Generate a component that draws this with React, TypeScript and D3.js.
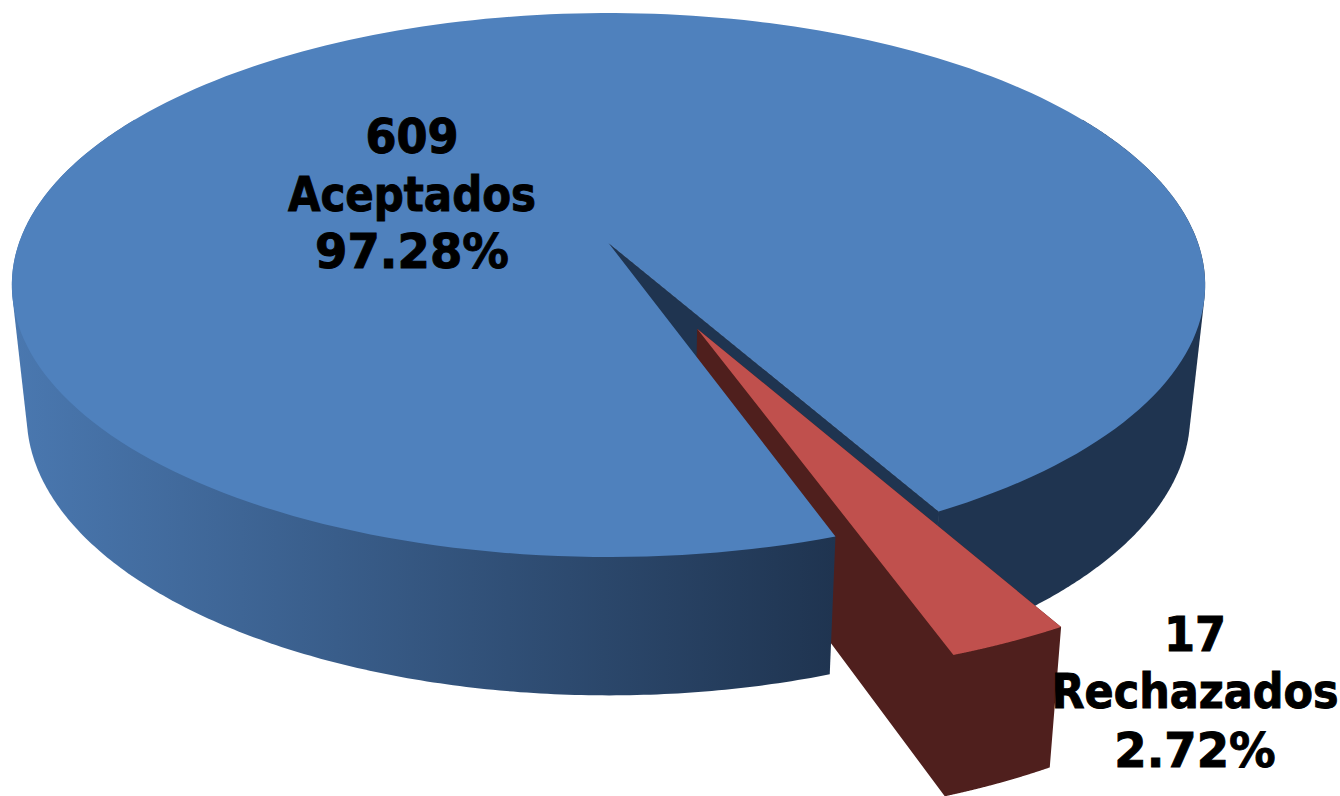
// App.tsx - 3D exploded pie, drawn with a small perspective projection
import React from "react";
import * as d3 from "d3";

const categories = ["Aceptados", "Rechazados"];
const counts = [609, 17];
const percents = ["97.28%", "2.72%"];

const topColors = ["#4f81bd", "#c0504d"];
const sideColors = ["#1f3450", "#4f1f1d"];

const width = 1340;
const height = 796;

// perspective of the pie plane
const apex = { x: 608.5, y: 243 };
const radiusX = 589.5;
const radiusY = 265.5;
const tilt = 0.1544;
const rotation = (160.8 * Math.PI) / 180;
const explode = 0.341;
const explodeNudge = 0.004;

// side walls: the bottom face shrinks towards x = 607 and is a bit flatter
const shrink = 0.975;
const shrinkX = 607;
const depth = 138.4;
const flatten = 0.03;
const frontY = 557;

type Pt = [number, number];

// angle is clockwise from 12 o'clock, radius 1 = rim
const project = (angle: number, r: number, ox = 0, oy = 0): Pt => {
  const px = ox + r * Math.sin(angle);
  const py = oy - r * Math.cos(angle);
  const w = 1 - tilt * py;
  return [apex.x + (radiusX * px) / w, apex.y + (radiusY * py) / w];
};

const lower = (p: Pt): Pt => [
  shrinkX + shrink * (p[0] - shrinkX),
  p[1] + depth - flatten * (frontY - p[1]),
];

const rim = (a0: number, a1: number, ox = 0, oy = 0): Pt[] =>
  d3.range(0, 241).map((i) => project(a0 + ((a1 - a0) * i) / 240, 1, ox, oy));

const line = d3.line<Pt>().curve(d3.curveLinearClosed);

const hullOf = (pts: Pt[]) =>
  line(d3.polygonHull([...pts, ...pts.map(lower)]) as Pt[]) as string;

const rad = (deg: number) => (deg * Math.PI) / 180;

const labelAt = [
  { x: 412, ys: [153, 211, 268], sx: [0.93, 0.875, 0.97] },
  { x: 1195, ys: [651, 708, 767], sx: [0.93, 0.895, 0.97] },
];

export default function App() {
  const slices = d3
    .pie<number>()
    .sort(null)
    .startAngle(rotation)
    .endAngle(rotation + Math.PI * 2)(counts);

  const blue = slices[0];
  const red = slices[1];

  const mid = (red.startAngle + red.endAngle) / 2;
  const ox = explode * Math.sin(mid) + explodeNudge;
  const oy = -explode * Math.cos(mid) - explodeNudge;

  const blueRim = rim(blue.startAngle, blue.endAngle);
  const blueTop = line([...blueRim, project(0, 0)]) as string;
  const leftWall = hullOf(rim(blue.startAngle, rad(300)));
  const rightWall = hullOf(rim(rad(420), blue.endAngle));

  const notchTop: Pt[] = [project(0, 0), project(blue.endAngle, 1)];
  const notchWall = line([...notchTop, ...notchTop.map(lower).reverse()]) as string;

  const redRim = rim(red.startAngle, red.endAngle, ox, oy);
  const redCorner = project(0, 0, ox, oy);
  const redTop = line([...redRim, redCorner]) as string;
  const redBody = hullOf([...redRim, redCorner]);

  return (
    <svg
      width={width}
      height={height}
      style={{ position: "absolute", left: 0, top: 0, background: "#fff" }}
    >
      <defs>
        <linearGradient id="blueSide" gradientUnits="userSpaceOnUse" x1={10} y1={0} x2={835} y2={0}>
          <stop offset="0" stopColor="#4a78b0" />
          <stop offset="1" stopColor={sideColors[0]} />
        </linearGradient>
      </defs>

      <path d={rightWall} fill={sideColors[0]} />
      {/* stroke hides the seam against the right wall, blue top covers the rest */}
      <path d={notchWall} fill={sideColors[0]} stroke={sideColors[0]} strokeWidth={1} />
      <path d={redBody} fill={sideColors[1]} />
      <path d={leftWall} fill="url(#blueSide)" />
      <path d={blueTop} fill={topColors[0]} />
      <path d={redTop} fill={topColors[1]} />

      {categories.map((name, i) => (
        <g
          key={name}
          fontFamily="'DejaVu Sans', sans-serif"
          fontWeight="bold"
          fontSize={48}
          fill="#000"
          stroke="#000"
          strokeWidth={1}
          textAnchor="middle"
        >
          {[String(counts[i]), name, percents[i]].map((txt, j) => (
            <text
              key={j}
              transform={`translate(${labelAt[i].x},${labelAt[i].ys[j]}) scale(${labelAt[i].sx[j]},1)`}
            >
              {txt}
            </text>
          ))}
        </g>
      ))}
    </svg>
  );
}
